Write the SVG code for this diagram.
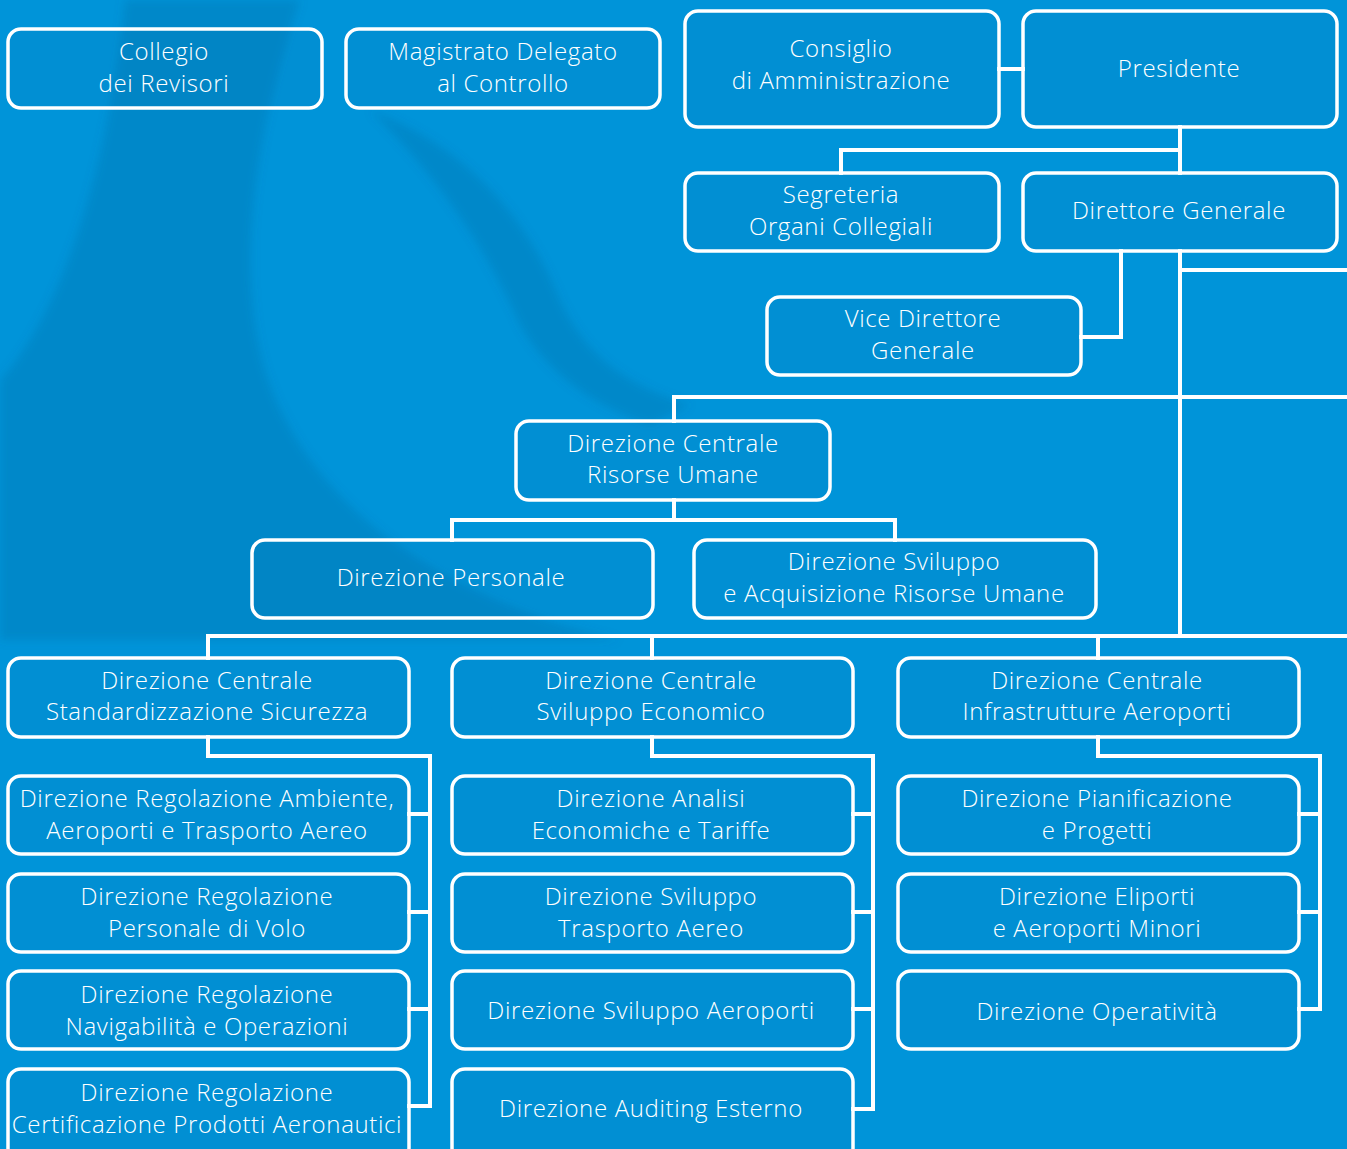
<svg xmlns="http://www.w3.org/2000/svg" width="1347" height="1149" viewBox="0 0 1347 1149">
<defs>
<filter id="soft" x="-10%" y="-10%" width="120%" height="120%"><feGaussianBlur stdDeviation="5"/></filter>
<style>
.bg{fill:#0094d9}
.wm{fill:#00578a;opacity:0.2}
.box{fill:#0a6fa8;fill-opacity:0.1;stroke:#fff;stroke-width:3.5}
.t{font-family:"Open Sans","Liberation Sans",sans-serif;font-weight:300;font-size:24px;letter-spacing:0.65px;fill:#fff;text-anchor:middle}
.c{fill:none;stroke:#fff;stroke-width:4;stroke-linecap:square}
</style>
</defs>
<rect class="bg" x="0" y="0" width="1347" height="1149"/>
<g id="watermark" filter="url(#soft)">
<path class="wm" d="M125 0 C110 150 70 300 0 381 L0 640 L620 640 C440 600 300 500 262 360 C235 250 260 120 300 0 Z"/>
<path class="wm" d="M370 110 C450 140 520 200 560 300 C585 355 625 385 690 405 L650 425 C590 405 545 370 520 325 C480 235 430 170 370 110 Z"/>
</g>
<g id="connectors">
<path class="c" d="M999 69 H1023"/>
<path class="c" d="M1180 127 V173"/>
<path class="c" d="M1180 251 V636"/>
<path class="c" d="M841 173 V150 H1180"/>
<path class="c" d="M1180 270 H1349"/>
<path class="c" d="M1121 251 V337 H1081"/>
<path class="c" d="M674 421 V397 H1349"/>
<path class="c" d="M674 500 V520"/>
<path class="c" d="M452 540 V520 H895 V540"/>
<path class="c" d="M208 658 V636 H1349"/>
<path class="c" d="M652 636 V658"/>
<path class="c" d="M1098 636 V658"/>
<path class="c" d="M208 737 V756 H430 V1106 H409"/>
<path class="c" d="M409 814 H430 M409 912 H430 M409 1009 H430"/>
<path class="c" d="M652 737 V756 H873 V1109 H853"/>
<path class="c" d="M853 814 H873 M853 912 H873 M853 1009 H873"/>
<path class="c" d="M1098 737 V756 H1320 V1009 H1299"/>
<path class="c" d="M1299 814 H1320 M1299 912 H1320"/>
</g>
<g id="n-collegio"><rect class="box" x="8" y="29" width="314" height="79" rx="13"/><text class="t" x="164" y="60">Collegio</text><text class="t" x="164" y="92">dei Revisori</text></g>
<g id="n-magistrato"><rect class="box" x="346" y="29" width="314" height="79" rx="13"/><text class="t" x="503" y="60">Magistrato Delegato</text><text class="t" x="503" y="92">al Controllo</text></g>
<g id="n-consiglio"><rect class="box" x="685" y="11" width="314" height="116" rx="13"/><text class="t" x="841" y="57">Consiglio</text><text class="t" x="841" y="89">di Amministrazione</text></g>
<g id="n-presidente"><rect class="box" x="1023" y="11" width="314" height="116" rx="13"/><text class="t" x="1179" y="77">Presidente</text></g>
<g id="n-segreteria"><rect class="box" x="685" y="173" width="314" height="78" rx="13"/><text class="t" x="841" y="203">Segreteria</text><text class="t" x="841" y="235">Organi Collegiali</text></g>
<g id="n-direttore"><rect class="box" x="1023" y="173" width="314" height="78" rx="13"/><text class="t" x="1179" y="219">Direttore Generale</text></g>
<g id="n-vice"><rect class="box" x="767" y="297" width="314" height="78" rx="13"/><text class="t" x="923" y="327">Vice Direttore</text><text class="t" x="923" y="359">Generale</text></g>
<g id="n-dcru"><rect class="box" x="516" y="421" width="314" height="79" rx="13"/><text class="t" x="673" y="452">Direzione Centrale</text><text class="t" x="673" y="483">Risorse Umane</text></g>
<g id="n-personale"><rect class="box" x="252" y="540" width="401" height="78" rx="13"/><text class="t" x="451" y="586">Direzione Personale</text></g>
<g id="n-sviluppo-ru"><rect class="box" x="694" y="540" width="402" height="78" rx="13"/><text class="t" x="894" y="570">Direzione Sviluppo</text><text class="t" x="894" y="602">e Acquisizione Risorse Umane</text></g>
<g id="n-dcss"><rect class="box" x="8" y="658" width="401" height="79" rx="13"/><text class="t" x="207" y="689">Direzione Centrale</text><text class="t" x="207" y="720">Standardizzazione Sicurezza</text></g>
<g id="n-dcse"><rect class="box" x="452" y="658" width="401" height="79" rx="13"/><text class="t" x="651" y="689">Direzione Centrale</text><text class="t" x="651" y="720">Sviluppo Economico</text></g>
<g id="n-dcia"><rect class="box" x="898" y="658" width="401" height="79" rx="13"/><text class="t" x="1097" y="689">Direzione Centrale</text><text class="t" x="1097" y="720">Infrastrutture Aeroporti</text></g>
<g id="n-ambiente"><rect class="box" x="8" y="776" width="401" height="78" rx="13"/><text class="t" x="207" y="807">Direzione Regolazione Ambiente,</text><text class="t" x="207" y="839">Aeroporti e Trasporto Aereo</text></g>
<g id="n-volo"><rect class="box" x="8" y="874" width="401" height="78" rx="13"/><text class="t" x="207" y="905">Direzione Regolazione</text><text class="t" x="207" y="937">Personale di Volo</text></g>
<g id="n-navigabilita"><rect class="box" x="8" y="971" width="401" height="78" rx="13"/><text class="t" x="207" y="1003">Direzione Regolazione</text><text class="t" x="207" y="1035">Navigabilità e Operazioni</text></g>
<g id="n-certificazione"><rect class="box" x="8" y="1069" width="401" height="92" rx="13"/><text class="t" x="207" y="1101">Direzione Regolazione</text><text class="t" x="207" y="1133">Certificazione Prodotti Aeronautici</text></g>
<g id="n-analisi"><rect class="box" x="452" y="776" width="401" height="78" rx="13"/><text class="t" x="651" y="807">Direzione Analisi</text><text class="t" x="651" y="839">Economiche e Tariffe</text></g>
<g id="n-trasporto"><rect class="box" x="452" y="874" width="401" height="78" rx="13"/><text class="t" x="651" y="905">Direzione Sviluppo</text><text class="t" x="651" y="937">Trasporto Aereo</text></g>
<g id="n-aeroporti"><rect class="box" x="452" y="971" width="401" height="78" rx="13"/><text class="t" x="651" y="1019">Direzione Sviluppo Aeroporti</text></g>
<g id="n-auditing"><rect class="box" x="452" y="1069" width="401" height="92" rx="13"/><text class="t" x="651" y="1117">Direzione Auditing Esterno</text></g>
<g id="n-pianificazione"><rect class="box" x="898" y="776" width="401" height="78" rx="13"/><text class="t" x="1097" y="807">Direzione Pianificazione</text><text class="t" x="1097" y="839">e Progetti</text></g>
<g id="n-eliporti"><rect class="box" x="898" y="874" width="401" height="78" rx="13"/><text class="t" x="1097" y="905">Direzione Eliporti</text><text class="t" x="1097" y="937">e Aeroporti Minori</text></g>
<g id="n-operativita"><rect class="box" x="898" y="971" width="401" height="78" rx="13"/><text class="t" x="1097" y="1020">Direzione Operatività</text></g>
</svg>
